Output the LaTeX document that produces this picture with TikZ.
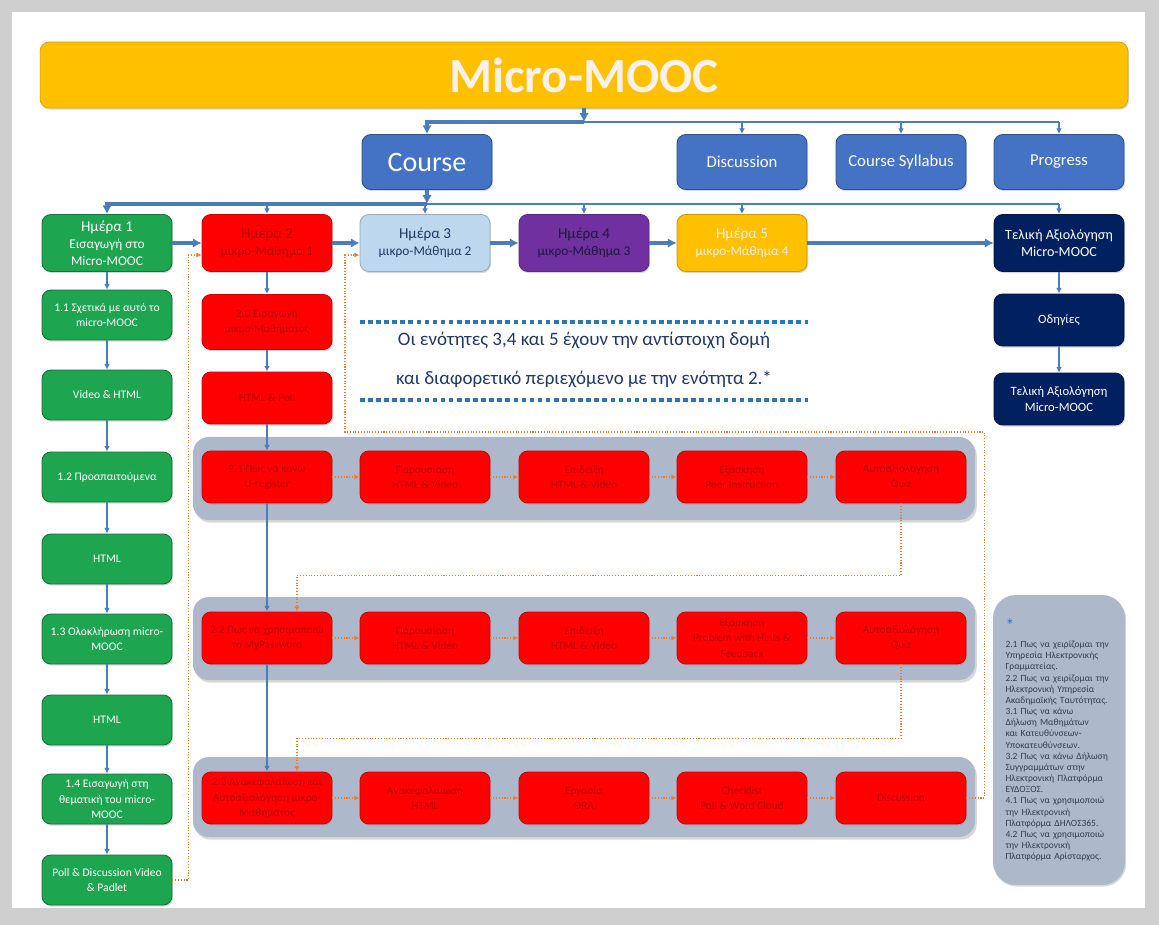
\documentclass[tikz,border=0pt]{standalone}
\usepackage{fontspec}
\setmainfont{Carlito}
\usepackage{tikz}
\usetikzlibrary{shadows,arrows.meta}
\definecolor{titley}{HTML}{FFC000}
\definecolor{topblue}{HTML}{4472C4}
\definecolor{greenb}{HTML}{1DA550}
\definecolor{redb}{HTML}{FF0000}
\definecolor{redtext}{HTML}{B80000}
\definecolor{lightb}{HTML}{BDD7EE}
\definecolor{purp}{HTML}{7030A0}
\definecolor{navy}{HTML}{002060}
\definecolor{bandc}{HTML}{ADB9CA}
\definecolor{conn}{HTML}{4A7EBB}
\definecolor{orng}{HTML}{ED7D31}
\definecolor{sepc}{HTML}{2E75B6}
\definecolor{notec}{HTML}{203864}
\definecolor{panelt}{HTML}{333F50}

\begin{document}
\begin{tikzpicture}[x=0.02cm,y=-0.02cm,
   shade/.style={drop shadow={shadow xshift=0.6pt,shadow yshift=-0.9pt,opacity=0.3}},
   box/.style={shade,rounded corners=5pt,minimum width=2.6cm,minimum height=1.04cm,
      align=center,inner sep=2pt,line width=0.5pt},
   daybox/.style={box,minimum height=1.14cm,font=\fontsize{7.6}{9.6}\selectfont},
   topbox/.style={box,fill=topblue,draw=topblue!70!black,text=white,minimum height=1.1cm,
      font=\fontsize{9.5}{11}\selectfont},
   gbox/.style={box,fill=greenb,draw=greenb!70!black,text=white,minimum height=1.0cm,
      font=\fontsize{6.6}{8.8}\selectfont},
   rbox/.style={box,fill=redb,draw=redb!80!black,text=redtext,
      font=\fontsize{6.4}{8.8}\selectfont},
   nbox/.style={box,fill=navy,draw=navy!70!black,text=white,
      font=\fontsize{7.2}{9.4}\selectfont},
   thickc/.style={draw=conn,line width=1.8pt,-{Latex[length=5pt,width=5.5pt]}},
   thinc/.style={draw=conn,line width=0.6pt,-{Latex[length=3.2pt,width=3.2pt]}},
   orng/.style={draw=orng,densely dotted,line width=0.6pt,-{Latex[length=3pt,width=3pt]}},
   sepline/.style={draw=sepc,line width=2.6pt,dash pattern=on 2.6pt off 2pt},
   band/.style={fill=bandc,rounded corners=9pt,
      drop shadow={shadow xshift=1pt,shadow yshift=-1.5pt,opacity=0.3}}]

\useasboundingbox (0,0) rectangle (1159,925);
\fill[gray!38] (0,0) rectangle (1159,925);
\fill[white] (12,12) rectangle (1145,908);

% title and top menu
\node[shade,fill=titley,draw=titley!85!black,rounded corners=5pt,minimum width=21.76cm,
   minimum height=1.32cm,text={rgb,255:red,253;green,240;blue,232},
   font=\fontsize{28}{30}\selectfont\bfseries] (title) at (584,75) {Micro-MOOC};
\node[topbox,font=\fontsize{16}{18}\selectfont] (course) at (427,162) {Course};
\node[topbox] (discussion) at (742,162) {Discussion};
\node[topbox] (syllabus) at (901,162) {Course Syllabus};
\node[topbox] (progress) at (1059,162) {Progress};

% bands behind the steps of day 2
\path[band] (193,437) rectangle (975,520);
\path[band] (193,597) rectangle (975,680);
\path[band] (193,757) rectangle (975,837);

% days
\node[daybox,fill=greenb,draw=greenb!70!black,text=white] (d1) at (107,243)
   {{\fontsize{8.6}{10}\selectfont Ημέρα 1}\\Εισαγωγή στο\\Micro-MOOC};
\node[daybox,fill=redb,draw=redb!80!black,text=redtext] (d2) at (267,243)
   {{\fontsize{8.6}{10}\selectfont Ημέρα 2}\\μικρο-Μάθημα 1};
\node[daybox,fill=lightb,draw=lightb!80!black,text=notec] (d3) at (425,243)
   {{\fontsize{8.6}{10}\selectfont Ημέρα 3}\\μικρο-Μάθημα 2};
\node[daybox,fill=purp,draw=purp!80!black,text={rgb,255:red,30;green,25;blue,60}] (d4) at (584,243)
   {{\fontsize{8.6}{10}\selectfont Ημέρα 4}\\μικρο-Μάθημα 3};
\node[daybox,fill=titley,draw=titley!80!black,text={rgb,255:red,253;green,238;blue,230}] (d5) at (742,243)
   {{\fontsize{8.6}{10}\selectfont Ημέρα 5}\\μικρο-Μάθημα 4};
\node[daybox,fill=navy,draw=navy!70!black,text=white,font=\fontsize{8}{10}\selectfont] (fin) at (1059,243)
   {Τελική Αξιολόγηση\\Micro-MOOC};

% day 1
\node[gbox] (g1) at (107,315) {1.1 Σχετικά με αυτό το\\micro-MOOC};
\node[gbox] (g2) at (107,395) {Video \& HTML};
\node[gbox] (g3) at (107,477) {1.2 Προαπαιτούμενα};
\node[gbox] (g4) at (107,559) {HTML};
\node[gbox] (g5) at (107,639) {1.3 Ολοκλήρωση micro-\\MOOC};
\node[gbox] (g6) at (107,720) {HTML};
\node[gbox] (g7) at (107,799) {1.4 Εισαγωγή στη\\θεματική του micro-\\MOOC};
\node[gbox] (g8) at (107,880) {Poll \& Discussion Video\\\& Padlet};

% day 2
\node[rbox,minimum height=1.1cm] (s20) at (267,322) {2.0 Εισαγωγή\\μικρο-Μαθήματος};
\node[rbox] (poll) at (267,398) {HTML \& Poll};
\node[rbox] (b11) at (267,477) {2.1 Πως να κάνω\\U-register};
\node[rbox] (b12) at (425,477) {Παρουσίαση\\HTML \& Video};
\node[rbox] (b13) at (584,477) {Επίδειξη\\HTML \& Video};
\node[rbox] (b14) at (742,477) {Εξάσκηση\\Peer Instruction};
\node[rbox] (b15) at (901,477) {Αυτοαξιολόγηση\\Quiz};
\node[rbox] (b21) at (267,638) {2.2 Πως να χρησιμοποιώ\\το MyPassword};
\node[rbox] (b22) at (425,638) {Παρουσίαση\\HTML \& Video};
\node[rbox] (b23) at (584,638) {Επίδειξη\\HTML \& Video};
\node[rbox] (b24) at (742,638) {Εξάσκηση\\Problem with Hints \&\\Feedback};
\node[rbox] (b25) at (901,638) {Αυτοαξιολόγηση\\Quiz};
\node[rbox] (b31) at (267,798) {2.3 Ανακεφαλαίωση και\\Αυτοαξιολόγηση μικρο-\\Μαθήματος};
\node[rbox] (b32) at (425,798) {Ανακεφαλαίωση\\HTML};
\node[rbox] (b33) at (584,798) {Εργασία\\ORA};
\node[rbox] (b34) at (742,798) {Checklist\\Poll \& Word Cloud};
\node[rbox] (b35) at (901,798) {Discussion};

% final evaluation
\node[nbox] (odig) at (1059,320) {Οδηγίες};
\node[nbox] (fin2) at (1059,399) {Τελική Αξιολόγηση\\Micro-MOOC};

% note on days 3-5
\draw[sepline] (360,322) -- (808,322);
\draw[sepline] (360,400) -- (808,400);
\node[text=notec,font=\fontsize{10.8}{12}\selectfont] (note1) at (584,340)
   {Οι ενότητες 3,4 και 5 έχουν την αντίστοιχη δομή};
\node[text=notec,font=\fontsize{10.8}{12}\selectfont] (note2) at (584,379)
   {και διαφορετικό περιεχόμενο με την ενότητα 2.*};

\node[shade,fill=bandc,rounded corners=13pt,minimum width=2.64cm,minimum height=5.8cm,
   text width=2.14cm,align=left,text=panelt,font=\fontsize{5.4}{6.35}\selectfont] (refs) at (1059,740)
   {{\color{sepc}\fontsize{10}{10}\selectfont *}\\[3pt]
    2.1 Πως να χειρίζομαι την Υπηρεσία Ηλεκτρονικής Γραμματείας.\\
    2.2 Πως να χειρίζομαι την Ηλεκτρονική Υπηρεσία Ακαδημαϊκής Ταυτότητας.\\
    3.1 Πως να κάνω Δήλωση Μαθημάτων και Κατευθύνσεων-Υποκατευθύνσεων.\\
    3.2 Πως να κάνω Δήλωση Συγγραμμάτων στην Ηλεκτρονική Πλατφόρμα ΕΥΔΟΞΟΣ.\\
    4.1 Πως να χρησιμοποιώ την Ηλεκτρονική Πλατφόρμα ΔΗΛΟΣ365.\\
    4.2 Πως να χρησιμοποιώ την Ηλεκτρονική Πλατφόρμα Αρίσταρχος.};

% connectors
\coordinate (hub) at (584,122);
\draw[thickc] (title.south) -- (hub);
\draw[thickc] (hub) -| (course.north);
\draw[thinc,-] (hub) -- (hub -| progress);
\foreach \n in {discussion,syllabus,progress}
   \draw[thinc] (hub -| \n) -- (\n.north);

\coordinate (split) at (427,204);
\draw[thickc] (course.south) -- (split);
\draw[thickc] (split) -| (d1.north);
\draw[thinc,-] (split) -- (split -| fin);
\foreach \n in {d2,d3,d4,d5,fin}
   \draw[thinc] (split -| \n) -- (\n.north);

\foreach \a/\b in {d1/d2,d2/d3,d3/d4,d4/d5,d5/fin}
   \draw[thickc] (\a) -- (\b);

\foreach \a/\b in {d1/g1,g1/g2,g2/g3,g3/g4,g4/g5,g5/g6,g6/g7,g7/g8,
   d2/s20,s20/poll,poll/b11,b11/b21,b21/b31,fin/odig,odig/fin2}
   \draw[thinc] (\a) -- (\b);

\foreach \r in {1,2,3}
   \foreach \a/\b in {1/2,2/3,3/4,4/5}
      \draw[orng] (b\r\a) -- (b\r\b);

\draw[orng] (b15.south) -- ++(0,72) -| ([xshift=0.6cm]b21.north);
\draw[orng] (b25.south) -- ++(0,74) -| ([xshift=0.6cm]b31.north);
\draw[orng] (g8.east) -- ++(16,0) |- ([yshift=-0.24cm]d2.west);
\draw[orng] (b35.east) -- ++(18,0) |- (345,432) |- ([yshift=-0.24cm]d3.west);
\end{tikzpicture}
\end{document}
